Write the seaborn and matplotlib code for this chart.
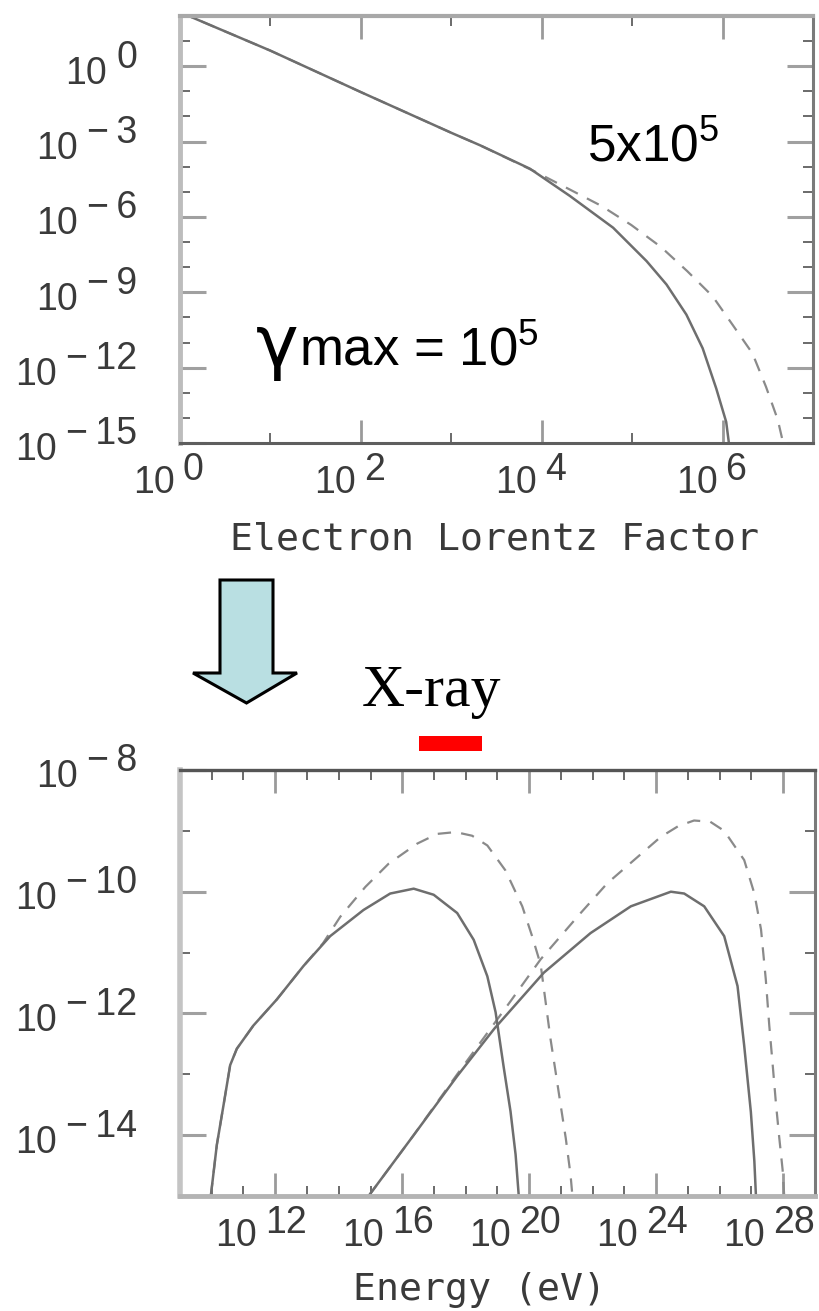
import matplotlib
matplotlib.use("Agg")
import numpy as np
import pandas as pd
import matplotlib.pyplot as plt
import seaborn as sns
from matplotlib.ticker import FixedLocator, NullFormatter
from matplotlib.transforms import ScaledTranslation
from matplotlib.patches import Polygon, Rectangle

# ---------------------------------------------------------------------------
# Electron spectrum: log10(Lorentz factor) and log10(number density)
# ---------------------------------------------------------------------------
gamma_cut1e5 = [0.0, 1.0, 2.0, 3.0, 3.32, 3.87, 4.31, 4.79, 5.16, 5.38, 5.60, 5.78, 5.93, 6.04, 6.07]
dens_cut1e5 = [2.15, 0.62, -1.03, -2.65, -3.15, -4.08, -5.16, -6.43, -7.76, -8.69, -9.89, -11.23, -12.83, -14.16, -15.0]

gamma_cut5e5 = [0.0, 1.0, 2.0, 3.0, 3.32, 3.94, 4.29, 4.66, 4.99, 5.32, 5.61, 5.89, 6.11, 6.33, 6.48, 6.61, 6.67]
dens_cut5e5 = [2.15, 0.62, -1.03, -2.65, -3.15, -4.22, -4.87, -5.56, -6.32, -7.20, -8.16, -9.16, -10.29, -11.43, -12.76, -14.07, -15.0]

# ---------------------------------------------------------------------------
# Photon spectra: log10(energy / eV) and log10(flux)
# ---------------------------------------------------------------------------
sync_e_cut1e5 = [9.97, 10.16, 10.37, 10.58, 10.79, 11.31, 12.05, 12.89, 13.73, 14.78, 15.62,
                 16.36, 16.99, 17.73, 18.25, 18.68, 18.94, 19.20, 19.41, 19.57, 19.67]
sync_f_cut1e5 = [-15.0, -14.16, -13.51, -12.85, -12.58, -12.20, -11.77, -11.22, -10.73, -10.30, -10.03,
                 -9.95, -10.05, -10.35, -10.79, -11.39, -11.98, -12.90, -13.61, -14.32, -15.0]

sync_e_cut5e5 = [9.97, 10.16, 10.37, 10.58, 10.79, 11.31, 12.05, 12.89, 13.50, 14.05, 14.84, 15.57,
                 16.47, 17.10, 17.68, 18.20, 18.68, 19.25, 19.78, 20.09, 20.36, 20.51, 20.67,
                 20.83, 20.99, 21.15, 21.30, 21.36]
sync_f_cut5e5 = [-15.0, -14.16, -13.51, -12.85, -12.58, -12.20, -11.77, -11.22, -10.85, -10.41, -9.92, -9.54,
                 -9.21, -9.05, -9.02, -9.08, -9.24, -9.65, -10.24, -10.73, -11.20, -11.79, -12.42,
                 -12.96, -13.51, -14.05, -14.65, -15.0]

ic_e_cut1e5 = [14.94, 16.36, 17.73, 18.90, 20.46, 21.93, 23.20, 24.46, 24.88, 25.51,
               26.14, 26.56, 26.77, 26.98, 27.09, 27.14]
ic_f_cut1e5 = [-15.0, -14.00, -13.03, -12.25, -11.33, -10.68, -10.24, -10.00, -10.03, -10.24,
               -10.73, -11.55, -12.53, -13.62, -14.43, -15.0]

ic_e_cut5e5 = [14.94, 16.36, 17.73, 18.50, 19.41, 20.36, 20.99, 21.62, 22.46, 23.30, 24.14,
               24.70, 25.19, 25.70, 26.14, 26.77, 27.09, 27.30, 27.45, 27.56, 27.66, 27.77,
               27.87, 27.98, 28.03]
ic_f_cut5e5 = [-15.0, -14.00, -13.00, -12.45, -11.80, -11.11, -10.73, -10.35, -9.86, -9.48, -9.10,
               -8.92, -8.83, -8.85, -9.00, -9.48, -10.03, -10.62, -11.44, -12.20, -12.80, -13.48,
               -14.02, -14.57, -15.0]

# tick decades
lorentz_x_major = [0, 2, 4, 6]
lorentz_y_major = [0, -3, -6, -9, -12, -15]
energy_x_major = [12, 16, 20, 24, 28]
energy_y_major = [-8, -10, -12, -14]


def spectrum_frame(curves):
    rows = []
    for name, xs, ys in curves:
        for xv, yv in zip(xs, ys):
            rows.append({"x": 10.0 ** xv, "y": 10.0 ** yv, "component": name})
    return pd.DataFrame(rows)


electron_solid = spectrum_frame([("electrons", gamma_cut1e5, dens_cut1e5)])
electron_dash = spectrum_frame([("electrons", gamma_cut5e5, dens_cut5e5)])
photon_solid = spectrum_frame([("sync", sync_e_cut1e5, sync_f_cut1e5),
                               ("ic", ic_e_cut1e5, ic_f_cut1e5)])
photon_dash = spectrum_frame([("sync", sync_e_cut5e5, sync_f_cut5e5),
                              ("ic", ic_e_cut5e5, ic_f_cut5e5)])

# ---------------------------------------------------------------------------
sns.set_theme(style="white")
plt.rcParams["font.family"] = ["Liberation Sans", "DejaVu Sans"]
plt.rcParams["mathtext.fontset"] = "custom"
plt.rcParams["mathtext.rm"] = "Liberation Sans"
plt.rcParams["mathtext.it"] = "Liberation Sans:italic"
plt.rcParams["mathtext.bf"] = "Liberation Sans:bold"

W, H = 820, 1311
fig = plt.figure(figsize=(W / 100, H / 100), dpi=100)
fig.patch.set_facecolor("white")


def axes_px(left, top, right, bottom):
    return fig.add_axes([left / W, 1 - bottom / H, (right - left) / W, (bottom - top) / H])


ax_e = axes_px(180, 16, 813, 443)
ax_p = axes_px(180, 770, 815, 1196)

LINE_SOLID = "#6e6e6e"
LINE_DASH = "#8a8a8a"
LABEL = "#3a3a3a"
TICK_FS = 27
DASH = (0, (6.0, 4.6))

for ax, solid, dash in ((ax_e, electron_solid, electron_dash), (ax_p, photon_solid, photon_dash)):
    sns.lineplot(data=dash, x="x", y="y", units="component", estimator=None, sort=False,
                 color=LINE_DASH, linewidth=1.6, linestyle=DASH, legend=False, ax=ax)
    sns.lineplot(data=solid, x="x", y="y", units="component", estimator=None, sort=False,
                 color=LINE_SOLID, linewidth=1.8, legend=False, ax=ax)
    ax.set_xscale("log")
    ax.set_yscale("log")
    ax.set_xlabel("")
    ax.set_ylabel("")
    ax.set_facecolor("white")

ax_e.set_xlim(1, 1e7)
ax_e.set_ylim(1e-15, 1e2)
ax_p.set_xlim(1e9, 1e29)
ax_p.set_ylim(1e-15, 1e-8)


def decade_ticks(axis, lo, hi, major):
    powers = range(lo, hi + 1)
    axis.set_major_locator(FixedLocator([10.0 ** p for p in powers if p in major]))
    axis.set_minor_locator(FixedLocator([10.0 ** p for p in powers if p not in major]))
    axis.set_major_formatter(NullFormatter())
    axis.set_minor_formatter(NullFormatter())


decade_ticks(ax_e.xaxis, 0, 7, lorentz_x_major)
decade_ticks(ax_e.yaxis, -15, 2, lorentz_y_major)
decade_ticks(ax_p.xaxis, 9, 29, energy_x_major)
decade_ticks(ax_p.yaxis, -15, -8, energy_y_major)

for ax in (ax_e, ax_p):
    ax.tick_params(which="both", direction="in", bottom=True, top=True, left=True, right=True,
                   labelbottom=False, labelleft=False)
    ax.tick_params(axis="x", which="major", length=16.5, width=2.0, color="#9a9a9a")
    ax.tick_params(axis="y", which="major", length=19, width=2.2, color="#a0a0a0")
    ax.tick_params(which="minor", length=7, width=1.4, color="#6a6a6a")
    for side in ("left", "right", "top", "bottom"):
        ax.spines[side].set_visible(True)

ax_e.spines["left"].set(color="#bdbdbd", linewidth=3.5)
ax_e.spines["top"].set(color="#a8a8a8", linewidth=3.0)
ax_e.spines["bottom"].set(color="#5e5e5e", linewidth=2.2)
ax_e.spines["right"].set(color="#7a7a7a", linewidth=2.2)
ax_p.spines["left"].set(color="#c4c4c4", linewidth=4.0)
ax_p.spines["top"].set(color="#555555", linewidth=2.4)
ax_p.spines["bottom"].set(color="#b4b4b4", linewidth=3.5)
ax_p.spines["right"].set(color="#7a7a7a", linewidth=2.2)

px = fig.dpi_scale_trans
MINUS = "\u2212"


def exponent_text(p):
    return str(p) if p >= 0 else MINUS + "\u2009" + str(-p)


def y_power_labels(ax, powers):
    for p in powers:
        tr = ax.get_yaxis_transform() + ScaledTranslation(-43 / 100, -1.5 / 100, px)
        ex = ax.text(0, 10.0 ** p, exponent_text(p), transform=tr, ha="right", va="baseline",
                     fontsize=TICK_FS, color=LABEL)
        ax.annotate("10", xy=(0, 0), xycoords=ex, xytext=(-9, -16), textcoords="offset pixels",
                    ha="right", va="bottom", fontsize=TICK_FS, color=LABEL, annotation_clip=False)


def x_power_labels(ax, powers, shift):
    for p in powers:
        tr_e = ax.get_xaxis_transform() + ScaledTranslation(shift / 100, -37 / 100, px)
        tr_b = ax.get_xaxis_transform() + ScaledTranslation((shift - 8) / 100, -50 / 100, px)
        ax.text(10.0 ** p, 0, exponent_text(p), transform=tr_e, ha="left", va="baseline",
                fontsize=TICK_FS, color=LABEL)
        ax.text(10.0 ** p, 0, "10", transform=tr_b, ha="right", va="baseline",
                fontsize=TICK_FS, color=LABEL)


y_power_labels(ax_e, lorentz_y_major)
x_power_labels(ax_e, lorentz_x_major, 3)
y_power_labels(ax_p, energy_y_major)
x_power_labels(ax_p, energy_x_major, -10)


def fig_text(x, y, s, **kw):
    return fig.text(x / W, 1 - y / H, s, **kw)


AXIS_FONT = ["DejaVu Sans Mono", "DejaVu Sans"]
fig_text(495, 550, "Electron Lorentz Factor", ha="center", va="baseline", fontsize=27.5,
         color=LABEL, family=AXIS_FONT)
fig_text(480, 1300, "Energy (eV)", ha="center", va="baseline", fontsize=27.5,
         color=LABEL, family=AXIS_FONT)

fig_text(587, 162, "5x10$^5$", ha="left", va="baseline", fontsize=37, color="black")
fig_text(256, 366, "\u03b3", ha="left", va="baseline", fontsize=52, color="black",
         family=["DejaVu Sans"])
fig_text(299, 365, "max = 10$^5$", ha="left", va="baseline", fontsize=38, color="black")

fig_text(362, 706, "X-ray", ha="left", va="baseline", fontsize=43, color="black",
         family=["Liberation Serif", "DejaVu Serif"])

# band marker above the photon panel
fig.patches.append(Rectangle((419 / W, 1 - 751 / H), 63 / W, 15 / H, transform=fig.transFigure,
                             facecolor="#ff0000", edgecolor="none"))

# downward arrow between the panels
arrow_px = [(220, 580), (273, 580), (273, 673), (297, 673), (246.5, 703), (193, 673), (220, 673)]
fig.patches.append(Polygon([(x / W, 1 - y / H) for x, y in arrow_px], closed=True,
                           transform=fig.transFigure, facecolor="#b9dfe2", edgecolor="black",
                           linewidth=2.2, joinstyle="miter"))

fig.savefig("out.png", dpi=100, facecolor="white")
